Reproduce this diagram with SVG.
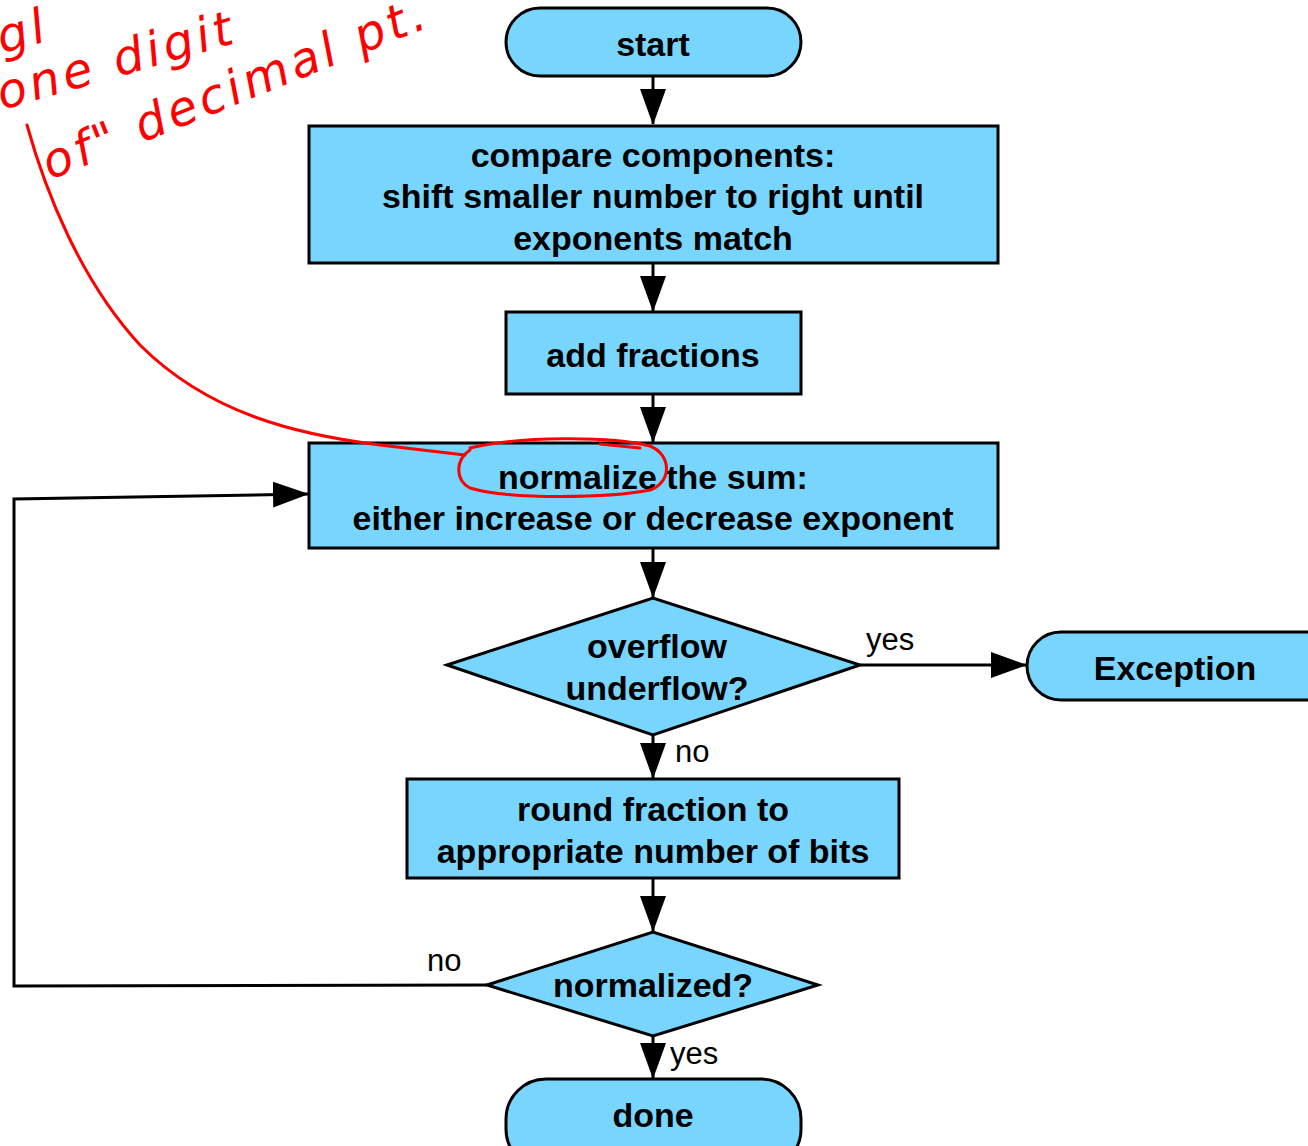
<svg xmlns="http://www.w3.org/2000/svg" width="1308" height="1146" viewBox="0 0 1308 1146">
<style>
.node{fill:#77D5FE;stroke:#000;stroke-width:3}
.t{font-family:"Liberation Sans",Arial,sans-serif;font-weight:bold;font-size:34px;text-anchor:middle;fill:#000}
.lbl{font-family:"Liberation Sans",Arial,sans-serif;font-size:31px;fill:#000}
.edge{fill:none;stroke:#000;stroke-width:3}
.ink{fill:none;stroke:#f00;stroke-width:3;stroke-linecap:round;stroke-linejoin:round}
.hw{font-family:"DejaVu Sans",sans-serif;font-style:italic;font-size:48px;letter-spacing:4px;fill:#f00}
</style>
<defs>
<marker id="arr" markerUnits="userSpaceOnUse" markerWidth="36" markerHeight="26" viewBox="0 0 36 26" refX="35" refY="13" orient="auto">
<path d="M0,0 L36,13 L0,26 z" fill="#000"/>
</marker>
</defs>
<rect width="1308" height="1146" fill="#fff"/>

<g id="connectors">
<line class="edge" x1="653" y1="76" x2="653" y2="124" marker-end="url(#arr)"/>
<line class="edge" x1="653" y1="263" x2="653" y2="311" marker-end="url(#arr)"/>
<line class="edge" x1="653" y1="394" x2="653" y2="442" marker-end="url(#arr)"/>
<line class="edge" x1="653" y1="548" x2="653" y2="597" marker-end="url(#arr)"/>
<line class="edge" x1="860" y1="665" x2="1026" y2="665" marker-end="url(#arr)"/>
<line class="edge" x1="653" y1="735" x2="653" y2="778" marker-end="url(#arr)"/>
<line class="edge" x1="653" y1="878" x2="653" y2="931" marker-end="url(#arr)"/>
<polyline class="edge" points="487,985 14,986 14,499 308,494" marker-end="url(#arr)"/>
<line class="edge" x1="653" y1="1036" x2="653" y2="1078" marker-end="url(#arr)"/>
<text class="lbl" x="866" y="650">yes</text>
<text class="lbl" x="675" y="762">no</text>
<text class="lbl" x="427" y="971">no</text>
<text class="lbl" x="670" y="1064">yes</text>
</g>

<g id="start">
<rect class="node" x="506" y="8" width="295" height="68" rx="34"/>
<text class="t" x="653" y="56">start</text>
</g>
<g id="compare">
<rect class="node" x="309" y="126" width="689" height="137"/>
<text class="t" x="653" y="167">compare components:</text>
<text class="t" x="653" y="208">shift smaller number to right until</text>
<text class="t" x="653" y="250">exponents match</text>
</g>
<g id="add">
<rect class="node" x="506" y="312" width="295" height="82"/>
<text class="t" x="653" y="367">add fractions</text>
</g>
<g id="normalize">
<rect class="node" x="309" y="443" width="689" height="105"/>
<text class="t" x="653" y="489">normalize the sum:</text>
<text class="t" x="653" y="530">either increase or decrease exponent</text>
</g>
<g id="overflow">
<polygon class="node" points="447,665 653,598 860,665 653,735"/>
<text class="t" x="657" y="658">overflow</text>
<text class="t" x="657" y="700">underflow?</text>
</g>
<g id="exception">
<rect class="node" x="1027" y="632" width="320" height="68" rx="34"/>
<text class="t" x="1175" y="680">Exception</text>
</g>
<g id="round">
<rect class="node" x="407" y="779" width="492" height="99"/>
<text class="t" x="653" y="821">round fraction to</text>
<text class="t" x="653" y="863">appropriate number of bits</text>
</g>
<g id="normalized">
<polygon class="node" points="487,985 653,932 818,985 653,1036"/>
<text class="t" x="653" y="997">normalized?</text>
</g>
<g id="done">
<rect class="node" x="506" y="1079" width="295" height="90" rx="40"/>
<text class="t" x="653" y="1127">done</text>
</g>

<g id="annotation">
<path class="ink" d="M27,125 C45,190 80,280 140,345 C210,415 300,435 380,445 L465,455"/>
<path class="ink" d="M470,450 C455,460 455,480 470,488 C510,500 610,498 650,490 C672,482 672,455 650,446 C610,436 520,436 470,448"/>
<path class="ink" d="M600,444 L640,448"/>
<text class="hw" transform="translate(2,110) rotate(-16)">one digit</text>
<text class="hw" transform="translate(50,180) rotate(-22)">of" decimal pt.</text>
<text class="hw" transform="translate(2,54) rotate(-16)">gl</text>
</g>
</svg>
